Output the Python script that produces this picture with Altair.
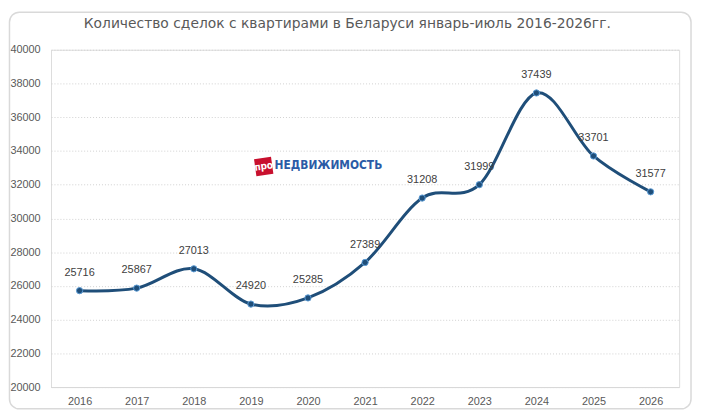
import altair as alt
import pandas as pd

years = ["2016", "2017", "2018", "2019", "2020", "2021", "2022", "2023", "2024", "2025", "2026"]
deals = [25716, 25867, 27013, 24920, 25285, 27389, 31208, 31999, 37439, 33701, 31577]
y_ticks = list(range(20000, 40001, 2000))
title_text = "Количество сделок с квартирами в Беларуси январь-июль 2016-2026гг."
logo_badge = "про"
logo_word = "НЕДВИЖИМОСТЬ"

df = pd.DataFrame({"year": years, "deals": deals})

W, H = 635, 341
TFONT = "DejaVu Sans"
FONT = "Liberation Sans"
LINE = "#1F4E79"

x_enc = alt.X("year:N", sort=years, title=None,
              scale=alt.Scale(paddingInner=0, paddingOuter=0, align=0.5),
              axis=alt.Axis(labelAngle=0, ticks=False, domainColor="#D9D9D9", domainWidth=1,
                            labelColor="#595959", labelFontSize=11, labelFont=FONT,
                            labelPadding=9, grid=False))
y_enc = alt.Y("deals:Q", title=None,
              scale=alt.Scale(domain=[20000, 40000], nice=False, zero=False),
              axis=alt.Axis(values=y_ticks, format="d", ticks=False, domain=False,
                            labelColor="#595959", labelFontSize=11, labelFont=FONT,
                            labelPadding=11, grid=True, gridColor="#D0D0D0",
                            gridDash=[1, 2], gridWidth=1))

deco = pd.DataFrame({"title": [title_text], "badge": [logo_badge], "word": [logo_word]})

frame = alt.Chart(deco).mark_rect(
    fill="white", fillOpacity=0, stroke="#D9D9D9", strokeWidth=1.5, cornerRadius=10
).encode(x=alt.value(-42), x2=alt.value(W + 12), y=alt.value(-38), y2=alt.value(H + 22))

title = alt.Chart(deco).mark_text(font=TFONT, fontSize=14, color="#595959",
                                  align="center", baseline="middle").encode(
    x=alt.value(W / 2 - 18), y=alt.value(-26), text="title:N")

base = alt.Chart(df)

line = base.mark_line(interpolate="cardinal", tension=0, color=LINE, strokeWidth=3).encode(
    x=x_enc, y=y_enc)

pts = base.mark_point(filled=True, size=40, fill=LINE, stroke="#5B9BD5", strokeWidth=1,
                      opacity=1).encode(x=x_enc, y=y_enc)

labels = base.mark_text(baseline="bottom", dy=-13, fontSize=11, font=FONT,
                        color="#404040").encode(x=x_enc, y=y_enc, text=alt.Text("deals:Q", format="d"))

badge_box = alt.Chart(deco).mark_point(shape="square", filled=True, size=300, angle=352,
                                       color="#C8102E", opacity=1).encode(
    x=alt.value(215), y=alt.value(118))
badge_txt = alt.Chart(deco).mark_text(font="DejaVu Sans Condensed", fontSize=10, fontWeight="bold",
                                      color="white", angle=352).encode(
    x=alt.value(215), y=alt.value(118), text="badge:N")
word_txt = alt.Chart(deco).mark_text(font="DejaVu Sans Condensed", fontSize=12, fontWeight="bold",
                                     color="#2B5BA6", align="left", baseline="middle").encode(
    x=alt.value(226), y=alt.value(117), text="word:N")

chart = alt.layer(frame, title, line, pts, labels, badge_box, badge_txt, word_txt).properties(
    width=W, height=H,
    autosize=alt.AutoSizeParams(type="none"),
    padding={"left": 43.5, "top": 40, "right": 14, "bottom": 24},
).configure_view(stroke=None).configure(background="white")

chart.save("out.html", embed_options={"renderer": "svg", "actions": False})
